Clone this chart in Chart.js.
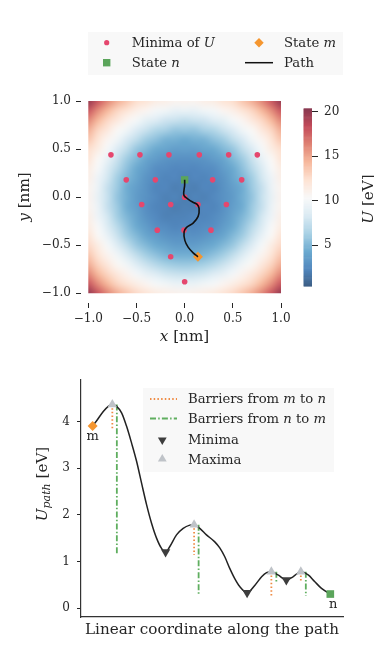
<!DOCTYPE html>
<html>
<head>
<meta charset="utf-8">
<title>Potential map and energy profile along the path</title>
<script src="https://cdn.jsdelivr.net/npm/chart.js@4.4.1/dist/chart.umd.min.js"></script>
<style>
  html, body { margin: 0; padding: 0; background: #fff; }
  body { position: relative; width: 374px; height: 654px; overflow: hidden;
         font-family: "DejaVu Serif", serif; color: #262626; }
  canvas { position: absolute; left: 0; }
  #mapChart { top: 0; }
  #pathChart { top: 345px; }
  .box { position: absolute; background: #f8f8f8; }
  .txt { position: absolute; white-space: nowrap; line-height: 1; font-size: 13.2px;
         transform: translateY(-50%); }
  .axis { position: absolute; white-space: nowrap; line-height: 1; font-size: 15.2px;
          transform: translate(-50%, -50%); }
  .axis.rot { transform: translate(-50%, -50%) rotate(-90deg); }
  sub { font-size: 11px; vertical-align: -3px; }
  svg { position: absolute; left: 0; top: 0; }
</style>
</head>
<body>
<canvas id="mapChart" width="374" height="345"></canvas>
<canvas id="pathChart" width="374" height="309"></canvas>

<div class="box" style="left:88px;top:32px;width:255px;height:43px"></div>
<div class="box" style="left:143px;top:388px;width:191px;height:84px"></div>

<svg width="374" height="654">
  <circle cx="106.7" cy="42.7" r="2.6" fill="#e5476e"/>
  <rect x="103" y="59" width="7.4" height="7.4" fill="#5ba55b"/>
  <polygon points="259,38 263.7,42.7 259,47.4 254.3,42.7" fill="#f5962f"/>
  <line x1="245" y1="62.7" x2="273" y2="62.7" stroke="#111" stroke-width="1.5"/>
  <line x1="150" y1="399" x2="177" y2="399" stroke="#ef8c45" stroke-width="1.8" stroke-dasharray="1.5 2.2"/>
  <line x1="150" y1="418.5" x2="177" y2="418.5" stroke="#5fae5f" stroke-width="1.8" stroke-dasharray="6 2.2 1.5 2.2"/>
  <polygon points="162.3,445 157.9,437.5 166.7,437.5" fill="#3d3d3d"/>
  <polygon points="162.3,454 157.9,461.5 166.7,461.5" fill="#bfc3c8"/>
</svg>

<div class="txt" style="left:131.7px;top:42.7px">Minima of <i>U</i></div>
<div class="txt" style="left:284px;top:42.7px">State <i>m</i></div>
<div class="txt" style="left:131.7px;top:62.7px">State <i>n</i></div>
<div class="txt" style="left:284px;top:62.7px">Path</div>

<div class="txt" style="left:188px;top:399px">Barriers from <i>m</i> to <i>n</i></div>
<div class="txt" style="left:188px;top:418.5px">Barriers from <i>n</i> to <i>m</i></div>
<div class="txt" style="left:188px;top:440px">Minima</div>
<div class="txt" style="left:188px;top:460px">Maxima</div>

<div class="axis" style="left:184.5px;top:337px"><i>x</i> [nm]</div>
<div class="axis rot" style="left:25px;top:197px"><i>y</i> [nm]</div>
<div class="axis rot" style="left:369px;top:199px"><i>U</i> [eV]</div>
<div class="axis rot" style="left:43px;top:484px"><i>U</i><sub><i>path</i></sub> [eV]</div>

<script>
// ---- data: potential map (rows from y = 1.0 down to y = -1.0) ----
const gridX = [-1.0, -0.9, -0.8, -0.7, -0.6, -0.5, -0.4, -0.3, -0.2, -0.1, 0.0,
               0.1, 0.2, 0.3, 0.4, 0.5, 0.6, 0.7, 0.8, 0.9, 1.0];
const gridY = [1.0, 0.9, 0.8, 0.7, 0.6, 0.5, 0.4, 0.3, 0.2, 0.1, 0.0,
               -0.1, -0.2, -0.3, -0.4, -0.5, -0.6, -0.7, -0.8, -0.9, -1.0];
const potential = [
  [20.0,17.9,16.2,14.8,13.7,12.6,12.2,11.5,11.3,10.9,11.0,10.9,11.3,11.5,12.2,12.6,13.7,14.8,16.2,17.9,20.0],
  [17.9,16.0,14.4,13.0,12.2,11.3,10.8,10.0, 9.8, 9.3, 9.4, 9.3, 9.8,10.0,10.8,11.3,12.2,13.0,14.4,16.0,17.9],
  [16.2,14.4,12.9,11.9,10.8,10.1, 9.1, 8.6, 7.9, 7.7, 7.4, 7.7, 7.9, 8.6, 9.1,10.1,10.8,11.9,12.9,14.4,16.2],
  [14.8,13.0,11.9,10.6, 9.8, 8.5, 7.7, 6.8, 6.4, 5.8, 5.9, 5.8, 6.4, 6.8, 7.7, 8.5, 9.8,10.6,11.9,13.0,14.8],
  [13.7,12.2,10.8, 9.8, 8.3, 7.3, 6.1, 5.5, 4.8, 4.7, 4.4, 4.7, 4.8, 5.5, 6.1, 7.3, 8.3, 9.8,10.8,12.2,13.7],
  [12.6,11.5,10.1, 8.5, 7.3, 5.8, 5.1, 4.3, 4.1, 3.7, 3.8, 3.7, 4.1, 4.3, 5.1, 5.8, 7.3, 8.5,10.1,11.5,12.6],
  [12.2,10.6, 9.3, 7.7, 6.1, 5.1, 4.1, 3.6, 3.1, 3.0, 2.9, 3.0, 3.1, 3.6, 4.1, 5.1, 6.1, 7.7, 9.3,10.6,12.2],
  [11.5,10.2, 8.4, 7.0, 5.5, 4.3, 3.6, 2.8, 2.7, 2.4, 2.5, 2.4, 2.7, 2.8, 3.6, 4.3, 5.5, 7.0, 8.4,10.2,11.5],
  [11.3, 9.6, 8.1, 6.2, 5.0, 4.1, 3.1, 2.7, 2.3, 2.4, 2.1, 2.4, 2.3, 2.7, 3.1, 4.1, 5.0, 6.2, 8.1, 9.6,11.3],
  [10.9, 9.5, 7.5, 6.0, 4.5, 3.7, 3.0, 2.3, 2.4, 2.0, 2.3, 2.0, 2.4, 2.3, 3.0, 3.7, 4.5, 6.0, 7.5, 9.5,10.9],
  [11.0, 9.2, 7.6, 5.7, 4.6, 3.5, 3.0, 2.5, 2.1, 2.3, 1.9, 2.3, 2.1, 2.5, 3.0, 3.5, 4.6, 5.7, 7.6, 9.2,11.0],
  [10.9, 9.5, 7.5, 6.0, 4.5, 3.7, 2.8, 2.3, 2.2, 1.9, 2.1, 2.0, 2.4, 2.3, 2.9, 3.7, 4.5, 6.0, 7.5, 9.5,10.9],
  [11.3, 9.6, 8.1, 6.2, 5.0, 4.0, 3.0, 2.5, 2.1, 2.2, 2.2, 2.4, 2.3, 2.6, 3.1, 4.0, 5.0, 6.2, 8.1, 9.6,11.3],
  [11.5,10.2, 8.4, 7.0, 5.5, 4.3, 3.5, 2.8, 2.6, 2.3, 2.5, 2.4, 2.7, 2.8, 3.5, 4.3, 5.5, 7.0, 8.4,10.2,11.5],
  [12.2,10.6, 9.3, 7.7, 6.1, 5.1, 4.1, 3.6, 3.1, 2.9, 3.0, 2.9, 3.1, 3.6, 4.1, 5.1, 6.1, 7.7, 9.3,10.6,12.2],
  [12.8,11.5,10.1, 8.6, 7.3, 5.9, 5.1, 4.4, 4.0, 3.6, 3.6, 3.6, 4.0, 4.4, 5.1, 5.9, 7.3, 8.6,10.1,11.5,12.8],
  [13.7,12.2,10.9, 9.8, 8.4, 7.3, 6.2, 5.5, 4.9, 4.6, 4.6, 4.6, 4.9, 5.5, 6.2, 7.3, 8.4, 9.8,10.9,12.2,13.7],
  [14.8,13.1,11.9,10.7, 9.8, 8.6, 7.7, 6.9, 6.3, 6.0, 5.9, 6.0, 6.3, 6.9, 7.7, 8.6, 9.8,10.7,11.9,13.1,14.8],
  [16.2,14.4,13.0,11.9,11.0,10.0, 9.2, 8.6, 8.0, 7.7, 7.6, 7.7, 8.0, 8.6, 9.2,10.0,11.0,11.9,13.0,14.4,16.2],
  [17.9,16.0,14.4,13.0,12.2,11.4,10.8,10.1, 9.8, 9.4, 9.4, 9.4, 9.8,10.1,10.8,11.4,12.2,13.0,14.4,16.0,17.9],
  [20.0,17.9,16.2,14.8,13.7,12.8,12.2,11.6,11.3,11.1,11.0,11.1,11.3,11.6,12.2,12.8,13.7,14.8,16.2,17.9,20.0]
];
const colorRange = [0.43, 20.38];
const colorTicks = [5, 10, 15, 20];
const mapTicks = [-1.0, -0.5, 0.0, 0.5, 1.0];

// minima of U, path and the two end states (nm)
const minimaX = [-0.765, -0.464, -0.163, 0.152, 0.457, 0.754,
                 -0.606, -0.304, 0.0, 0.29, 0.592,
                 0.0,
                 -0.446, -0.145, 0.138, 0.433,
                 -0.284, -0.007, 0.273,
                 -0.145, 0.138,
                 0.0];
const minimaY = [0.44, 0.44, 0.44, 0.44, 0.44, 0.44,
                 0.18, 0.18, 0.18, 0.18, 0.18,
                 0.0,
                 -0.076, -0.076, -0.076, -0.076,
                 -0.343, -0.343, -0.343,
                 -0.62, -0.62,
                 -0.88];
const pathX = [0.0, 0.0, -0.008, 0.035, 0.09, 0.13, 0.15, 0.14, 0.088, 0.02, -0.006, 0.002, 0.036, 0.088, 0.138];
const pathY = [0.18, 0.125, 0.02, -0.02, -0.055, -0.075, -0.12, -0.2, -0.27, -0.315, -0.36, -0.45, -0.52, -0.58, -0.62];
const stateN = [0.0, 0.18];
const stateM = [0.138, -0.62];

// ---- data: energy profile along the path ----
const profileS = [0, 0.017, 0.045, 0.066, 0.083, 0.101, 0.122, 0.143, 0.164, 0.185, 0.206, 0.227,
                  0.248, 0.269, 0.29, 0.307, 0.325, 0.353, 0.381, 0.409, 0.427, 0.451, 0.479,
                  0.514, 0.535, 0.556, 0.577, 0.598, 0.619, 0.65, 0.683, 0.711, 0.732, 0.752,
                  0.78, 0.815, 0.843, 0.876, 0.907, 0.934, 0.963, 1.0];
const profileU = [3.91, 4.02, 4.22, 4.33, 4.37, 4.33, 4.19, 3.9, 3.54, 3.15, 2.68, 2.22,
                  1.82, 1.5, 1.28, 1.2, 1.32, 1.57, 1.71, 1.78, 1.79, 1.71, 1.57,
                  1.42, 1.29, 1.1, 0.85, 0.63, 0.46, 0.33, 0.49, 0.67, 0.76, 0.78,
                  0.71, 0.6, 0.67, 0.78, 0.71, 0.57, 0.42, 0.3];
const minimaS = [0.307, 0.65, 0.815];
const minimaU = [1.2, 0.33, 0.6];
const maximaS = [0.083, 0.427, 0.752, 0.876];
const maximaU = [4.37, 1.79, 0.78, 0.78];
const barrierMnS = [0.083, 0.427, 0.752, 0.876];
const barrierMnLow = [3.86, 1.14, 0.26, 0.55];
const barrierNmS = [0.102, 0.446, 0.773, 0.897];
const barrierNmLow = [1.14, 0.26, 0.55, 0.26];
const startM = [0.0, 3.91];
const endN = [1.0, 0.3];

// ---- helpers ----
const RDBU_R = ['#053061', '#2166ac', '#4393c3', '#92c5de', '#d1e5f0', '#f7f7f7',
                '#fddbc7', '#f4a582', '#d6604d', '#b2182b', '#67001f'];
const CMAP_ALPHA = 0.78;

function hexToRgb(h) {
  return [parseInt(h.slice(1, 3), 16), parseInt(h.slice(3, 5), 16), parseInt(h.slice(5, 7), 16)];
}
const cmapStops = RDBU_R.map(hexToRgb);

function colourFor(v) {
  let t = (v - colorRange[0]) / (colorRange[1] - colorRange[0]);
  t = Math.max(0, Math.min(1, t));
  const pos = t * (cmapStops.length - 1);
  const i = Math.min(Math.floor(pos), cmapStops.length - 2);
  const f = pos - i;
  const a = cmapStops[i], b = cmapStops[i + 1];
  // blend with the white background like a translucent mesh
  return a.map((c, k) => Math.round((c + (b[k] - c) * f) * CMAP_ALPHA + 255 * (1 - CMAP_ALPHA)));
}

function fixedTicks(values) {
  return function(scale) { scale.ticks = values.map(v => ({ value: v })); };
}
function fmtNum(v) {
  return (v < 0 ? '\u2212' : '') + Math.abs(v).toFixed(1);
}
function toPoints(xs, ys) {
  return xs.map((x, i) => ({ x: x, y: ys[i] }));
}
function segments(xs, tops, lows) {
  const pts = [];
  xs.forEach((x, i) => {
    pts.push({ x: x, y: tops[i] }, { x: x, y: lows[i] }, { x: x, y: null });
  });
  return pts;
}

Chart.defaults.font.family = '"DejaVu Serif", serif';
Chart.defaults.color = '#262626';

const tickFont = { size: 12 };
const tickGrid = { display: true, drawOnChartArea: false, drawTicks: true, tickLength: 5,
                   color: '#262626', lineWidth: 1 };

// ---- plugin: heatmap mesh + colour bar ----
const heatmapPlugin = {
  id: 'heatmap',
  beforeDatasetsDraw(chart) {
    const { ctx, chartArea, scales } = chart;
    const sx = scales.x, sy = scales.y, cb = scales.cb;
    const nx = gridX.length, ny = gridY.length;

    const off = document.createElement('canvas');
    off.width = nx;
    off.height = ny;
    const octx = off.getContext('2d');
    const img = octx.createImageData(nx, ny);
    potential.forEach((row, j) => {
      row.forEach((v, i) => {
        const c = colourFor(v);
        const k = (j * nx + i) * 4;
        img.data[k] = c[0]; img.data[k + 1] = c[1]; img.data[k + 2] = c[2]; img.data[k + 3] = 255;
      });
    });
    octx.putImageData(img, 0, 0);

    const hx = (gridX[1] - gridX[0]) / 2;
    const hy = (gridY[0] - gridY[1]) / 2;
    const left = sx.getPixelForValue(gridX[0] - hx);
    const right = sx.getPixelForValue(gridX[nx - 1] + hx);
    const top = sy.getPixelForValue(gridY[0] + hy);
    const bottom = sy.getPixelForValue(gridY[ny - 1] - hy);

    ctx.save();
    ctx.beginPath();
    ctx.rect(sx.getPixelForValue(gridX[0]), sy.getPixelForValue(gridY[0]),
             sx.getPixelForValue(gridX[nx - 1]) - sx.getPixelForValue(gridX[0]),
             sy.getPixelForValue(gridY[ny - 1]) - sy.getPixelForValue(gridY[0]));
    ctx.clip();
    ctx.imageSmoothingEnabled = true;
    ctx.imageSmoothingQuality = 'high';
    ctx.drawImage(off, left, top, right - left, bottom - top);
    ctx.restore();

    // colour bar
    const barW = 8.4;
    const steps = 160;
    const dv = (colorRange[1] - colorRange[0]) / steps;
    for (let s = 0; s < steps; s++) {
      const v0 = colorRange[0] + s * dv;
      const y0 = cb.getPixelForValue(v0);
      const y1 = cb.getPixelForValue(v0 + dv);
      const c = colourFor(v0 + dv / 2);
      ctx.fillStyle = 'rgb(' + c.join(',') + ')';
      ctx.fillRect(chartArea.right - barW, y1, barW, y0 - y1 + 0.6);
    }
  }
};

// ---- plugin: "m" / "n" labels under the end states ----
const endLabels = {
  id: 'endLabels',
  afterDatasetsDraw(chart) {
    const { ctx, scales } = chart;
    ctx.save();
    ctx.font = '13px "DejaVu Serif", serif';
    ctx.fillStyle = '#262626';
    ctx.textAlign = 'center';
    ctx.textBaseline = 'middle';
    ctx.fillText('m', scales.x.getPixelForValue(startM[0]), scales.y.getPixelForValue(startM[1]) + 11);
    ctx.fillText('n', scales.x.getPixelForValue(endN[0]) + 3, scales.y.getPixelForValue(endN[1]) + 11);
    ctx.restore();
  }
};

// ---- top chart: map ----
new Chart(document.getElementById('mapChart'), {
  type: 'scatter',
  data: {
    datasets: [
      { label: 'Path', data: toPoints(pathX, pathY), showLine: true, tension: 0.35,
        borderColor: '#111', borderWidth: 1.6, pointRadius: 0, order: 0 },
      { label: 'State n', data: [{ x: stateN[0], y: stateN[1] }], pointStyle: 'rect',
        pointRadius: 5.2, backgroundColor: '#5ba55b', borderWidth: 0, order: 1 },
      { label: 'State m', data: [{ x: stateM[0], y: stateM[1] }], pointStyle: 'rectRot',
        pointRadius: 5, backgroundColor: '#f5962f', borderWidth: 0, order: 1 },
      { label: 'Minima of U', data: toPoints(minimaX, minimaY), pointStyle: 'circle',
        pointRadius: 2.8, backgroundColor: '#e5476e', borderWidth: 0, order: 2 }
    ]
  },
  options: {
    responsive: false,
    animation: false,
    layout: { padding: { top: 101, left: 0, right: 0, bottom: 0 } },
    plugins: { legend: { display: false }, tooltip: { enabled: false } },
    scales: {
      x: {
        type: 'linear', min: -1.0758, max: 1.3217,
        afterBuildTicks: fixedTicks(mapTicks),
        afterFit(scale) { scale.height = 42; },
        border: { display: false },
        grid: tickGrid,
        ticks: { font: tickFont, padding: 4, maxRotation: 0, autoSkip: false, callback: fmtNum }
      },
      y: {
        type: 'linear', min: -1.1009, max: 1.0,
        afterBuildTicks: fixedTicks(mapTicks),
        afterFit(scale) { scale.width = 81; },
        border: { display: false },
        grid: tickGrid,
        ticks: { font: tickFont, padding: 5, autoSkip: false, callback: fmtNum }
      },
      cb: {
        type: 'linear', position: 'right', axis: 'y', min: -1.478, max: 21.2,
        afterBuildTicks: fixedTicks(colorTicks),
        afterFit(scale) { scale.width = 62; },
        border: { display: false },
        grid: Object.assign({}, tickGrid, { tickLength: 6 }),
        ticks: { font: tickFont, padding: 6, autoSkip: false }
      }
    }
  },
  plugins: [heatmapPlugin]
});

// ---- bottom chart: profile along the path ----
new Chart(document.getElementById('pathChart'), {
  type: 'scatter',
  data: {
    datasets: [
      { label: 'State m', data: [{ x: startM[0], y: startM[1] }], pointStyle: 'rectRot',
        pointRadius: 5, backgroundColor: '#f5962f', borderWidth: 0, order: 0 },
      { label: 'State n', data: [{ x: endN[0], y: endN[1] }], pointStyle: 'rect',
        pointRadius: 5.4, backgroundColor: '#5ba55b', borderWidth: 0, order: 0 },
      { label: 'Maxima', data: toPoints(maximaS, maximaU), pointStyle: 'triangle',
        pointRadius: 5.5, backgroundColor: '#bfc3c8', borderWidth: 0, order: 1 },
      { label: 'Minima', data: toPoints(minimaS, minimaU), pointStyle: 'triangle', rotation: 180,
        pointRadius: 5.5, backgroundColor: '#3d3d3d', borderWidth: 0, order: 1 },
      { label: 'Profile', data: toPoints(profileS, profileU), showLine: true,
        cubicInterpolationMode: 'monotone', borderColor: '#222', borderWidth: 1.5,
        pointRadius: 0, order: 2 },
      { label: 'Barriers from m to n', data: segments(barrierMnS, maximaU, barrierMnLow),
        showLine: true, spanGaps: false, borderColor: '#ef8c45', borderWidth: 1.8,
        borderDash: [1.5, 2.2], borderCapStyle: 'butt', pointRadius: 0, order: 3 },
      { label: 'Barriers from n to m', data: segments(barrierNmS, maximaU, barrierNmLow),
        showLine: true, spanGaps: false, borderColor: '#5fae5f', borderWidth: 1.8,
        borderDash: [6, 2.2, 1.5, 2.2], borderCapStyle: 'butt', pointRadius: 0, order: 3 }
    ]
  },
  options: {
    responsive: false,
    animation: false,
    layout: { padding: { top: 35, left: 0, right: 31, bottom: 0 } },
    plugins: { legend: { display: false }, tooltip: { enabled: false } },
    scales: {
      x: {
        type: 'linear', min: -0.0488, max: 1.0534,
        afterFit(scale) { scale.height = 37; },
        border: { display: true, color: '#333', width: 1.2 },
        grid: { display: false },
        ticks: { display: false },
        title: { display: true, text: 'Linear coordinate along the path',
                 font: { size: 15.2 }, padding: { top: 0, bottom: 15 } }
      },
      y: {
        type: 'linear', min: -0.193, max: 4.895,
        afterBuildTicks: fixedTicks([0, 1, 2, 3, 4]),
        afterFit(scale) { scale.width = 81; },
        border: { display: true, color: '#333', width: 1.2 },
        grid: Object.assign({}, tickGrid, { tickLength: 4 }),
        ticks: { font: tickFont, padding: 7, autoSkip: false }
      }
    }
  },
  plugins: [endLabels]
});
</script>
</body>
</html>
